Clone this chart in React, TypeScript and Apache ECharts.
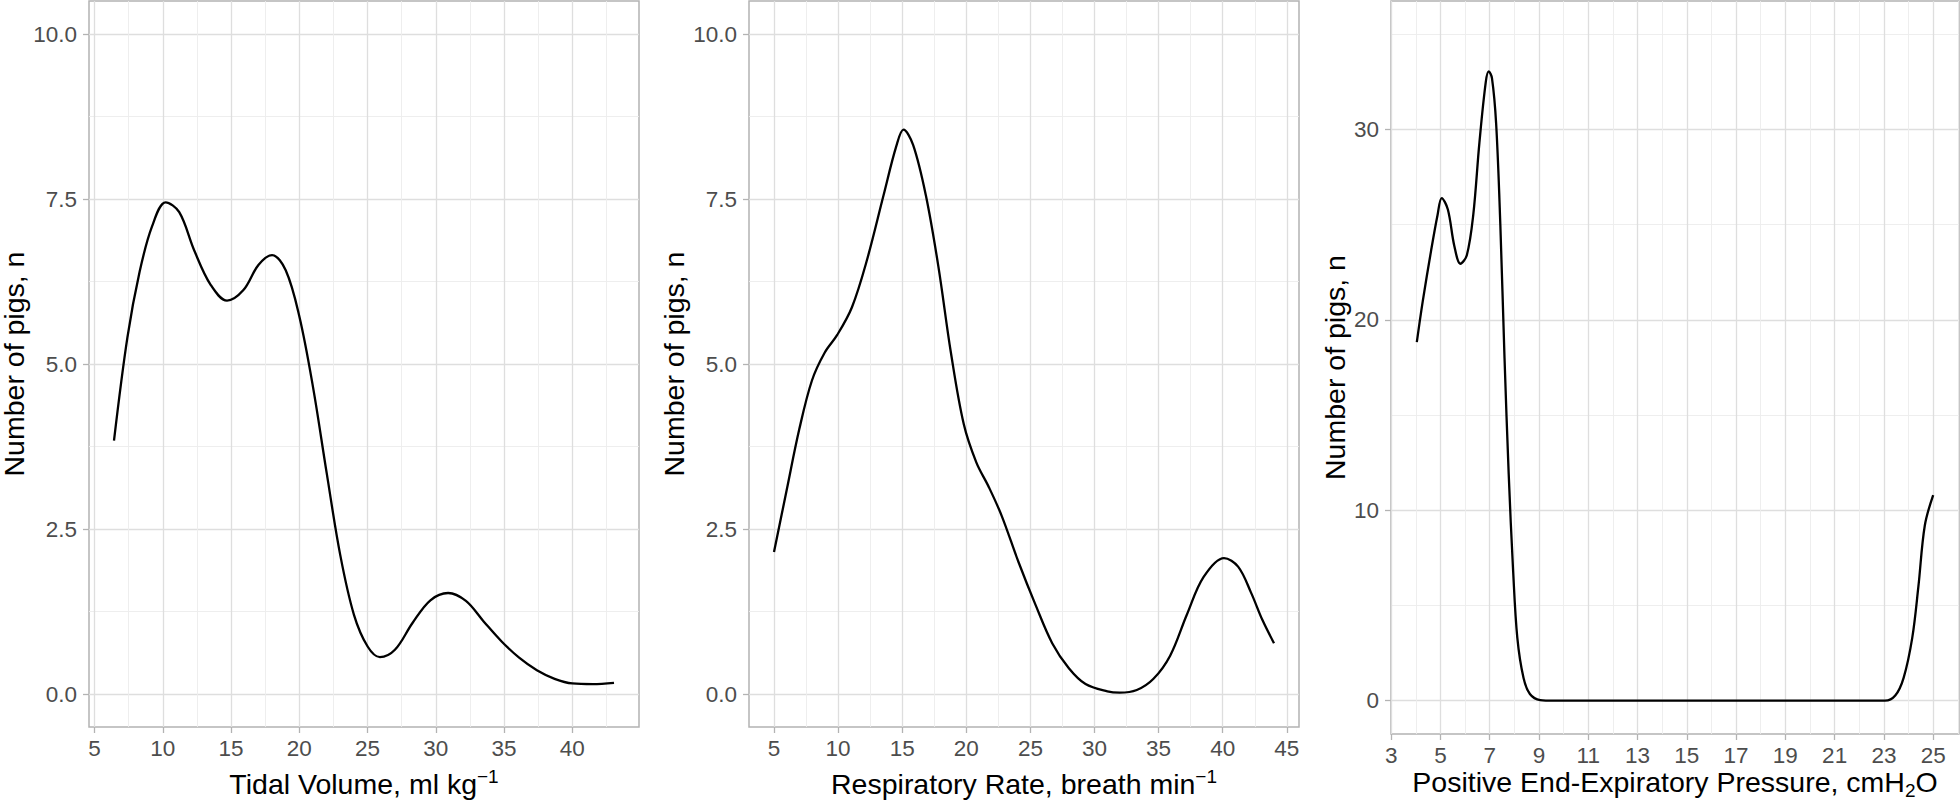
import React, { useEffect, useRef } from "react";
import * as echarts from "echarts";

// ---- Data ----
const tidalX = [6.42, 7.4, 8.3, 9.2, 10.2, 11.2, 12.3, 13.5, 14.7, 15.9, 17.0, 18.0, 19.0, 20.0, 21.0, 22.0, 23.0, 24.0, 25.0, 25.9, 27.0, 28.3, 29.6, 30.9, 32.2, 33.5, 34.8, 36.1, 37.4, 38.7, 40.0, 41.5, 43.05];
const tidalY = [3.84, 5.4, 6.4, 7.08, 7.45, 7.3, 6.72, 6.2, 5.96, 6.12, 6.5, 6.65, 6.42, 5.72, 4.65, 3.35, 2.1, 1.2, 0.72, 0.56, 0.67, 1.08, 1.42, 1.53, 1.41, 1.1, 0.8, 0.55, 0.36, 0.23, 0.16, 0.15, 0.17];

const respX = [5.0, 5.99, 6.97, 7.96, 8.95, 9.93, 11.08, 12.23, 13.55, 14.54, 15.1, 15.85, 16.84, 17.82, 18.8, 19.8, 20.78, 21.77, 22.76, 24.07, 25.4, 26.7, 28.0, 29.3, 31.0, 31.96, 33.3, 34.6, 35.9, 37.2, 38.5, 40.1, 41.2, 42.2, 43.1, 44.0];
const respY = [2.15, 3.09, 4.01, 4.75, 5.17, 5.44, 5.86, 6.56, 7.56, 8.3, 8.55, 8.32, 7.56, 6.48, 5.17, 4.09, 3.51, 3.13, 2.7, 2.0, 1.35, 0.77, 0.39, 0.15, 0.04, 0.02, 0.06, 0.23, 0.58, 1.2, 1.77, 2.06, 1.93, 1.54, 1.12, 0.77];

const peepX = [4.04, 4.28, 4.62, 4.88, 5.05, 5.3, 5.56, 5.81, 6.07, 6.33, 6.58, 6.84, 6.96, 7.09, 7.26, 7.43, 7.6, 7.77, 7.95, 8.12, 8.37, 8.63, 9.05, 9.6, 12, 15, 18, 21, 23.04, 23.46, 23.8, 24.15, 24.4, 24.66, 25.0];
const peepY = [18.83, 20.97, 23.64, 25.5, 26.4, 25.8, 23.9, 22.95, 23.4, 25.5, 29.3, 32.5, 33.05, 32.7, 30.3, 25.0, 18.0, 11.9, 6.8, 3.3, 1.2, 0.35, 0.03, 0, 0, 0, 0, 0, 0, 0.27, 1.2, 3.3, 6.0, 9.2, 10.8];

const tidalXTicks = [5, 10, 15, 20, 25, 30, 35, 40];
const respXTicks = [5, 10, 15, 20, 25, 30, 35, 40, 45];
const peepXTicks = [3, 5, 7, 9, 11, 13, 15, 17, 19, 21, 23, 25];
const rateYTicks = [0, 2.5, 5, 7.5, 10];
const peepYTicks = [0, 10, 20, 30];
const rateYLimits = [0, 10];
const peepYLimits = [0, 35];

const FONT = "'Liberation Sans', Arial, Helvetica, sans-serif";

function expand(lo: number, hi: number): [number, number] {
  const d = hi - lo;
  return [lo - d * 0.05, hi + d * 0.05];
}

function minorBreaks(major: number[], lo: number, hi: number): number[] {
  const out: number[] = [];
  const step = major[1] - major[0];
  const cand = [major[0] - step / 2];
  for (let i = 0; i < major.length - 1; i++) cand.push((major[i] + major[i + 1]) / 2);
  cand.push(major[major.length - 1] + step / 2);
  cand.forEach((v) => {
    if (v > lo && v < hi) out.push(v);
  });
  return out;
}

export default function App() {
  const ref = useRef<HTMLDivElement>(null);

  useEffect(() => {
    if (!ref.current) return;
    const chart = echarts.init(ref.current, null, { renderer: "svg" });

    const panels = [
      {
        xs: tidalX, ys: tidalY, xTicks: tidalXTicks, yTicks: rateYTicks,
        yLim: expand(rateYLimits[0], rateYLimits[1]),
        xName: "Tidal Volume, ml kg{sup|\u22121}",
        fmt: (v: number) => v.toFixed(1),
        grid: { left: 89, top: 1, width: 550, height: 726 },
        yGap: 61, xGap: 40, nameLH: 34,
      },
      {
        xs: respX, ys: respY, xTicks: respXTicks, yTicks: rateYTicks,
        yLim: expand(rateYLimits[0], rateYLimits[1]),
        xName: "Respiratory Rate, breath min{sup|\u22121}",
        fmt: (v: number) => v.toFixed(1),
        grid: { left: 749, top: 1, width: 550, height: 726 },
        yGap: 61, xGap: 40, nameLH: 34,
      },
      {
        xs: peepX, ys: peepY, xTicks: peepXTicks, yTicks: peepYTicks,
        yLim: expand(peepYLimits[0], peepYLimits[1]),
        xName: "Positive End-Expiratory Pressure, cmH{sub|2}O",
        fmt: (v: number) => String(v),
        grid: { left: 1391, top: 1, width: 568, height: 733 },
        yGap: 42, xGap: 30, nameLH: 36,
      },
    ];

    const grids: any[] = [];
    const xAxes: any[] = [];
    const yAxes: any[] = [];
    const series: any[] = [];

    const tickStyle = { color: "#b3b3b3", width: 1.3 };
    const labelStyle = { fontSize: 22.5, color: "#4d4d4d", fontFamily: FONT };

    panels.forEach((p, i) => {
      const xLim = expand(Math.min(...p.xs), Math.max(...p.xs));
      const yLim = p.yLim;
      grids.push({
        ...p.grid, show: true, borderColor: "#b3b3b3", borderWidth: 1.5, backgroundColor: "#fff",
        containLabel: false, outerBoundsMode: "none",
      });
      xAxes.push({
        type: "value", gridIndex: i, min: xLim[0], max: xLim[1],
        axisLine: { show: false, onZero: false },
        splitLine: { show: false },
        axisTick: { show: true, length: 6, customValues: p.xTicks, lineStyle: tickStyle },
        axisLabel: { ...labelStyle, customValues: p.xTicks, margin: 10 },
        name: p.xName, nameLocation: "middle", nameGap: p.xGap, nameMoveOverlap: false,
        nameTextStyle: {
          fontSize: 28.5, color: "#000", fontFamily: FONT, lineHeight: p.nameLH,
          rich: {
            sup: { fontSize: 19, color: "#000", fontFamily: FONT, lineHeight: 19, verticalAlign: "top" },
            sub: { fontSize: 19, color: "#000", fontFamily: FONT, lineHeight: 19, verticalAlign: "bottom" },
          },
        },
      });
      yAxes.push({
        type: "value", gridIndex: i, min: yLim[0], max: yLim[1],
        axisLine: { show: false, onZero: false },
        splitLine: { show: false },
        axisTick: { show: true, length: 6, customValues: p.yTicks, lineStyle: tickStyle },
        axisLabel: { ...labelStyle, customValues: p.yTicks, margin: 12, formatter: p.fmt },
        name: "Number of pigs, n", nameLocation: "middle", nameGap: p.yGap, nameMoveOverlap: false,
        nameTextStyle: { fontSize: 28.5, color: "#000", fontFamily: FONT },
      });

      const pairs = p.xs.map((x, k) => [x, p.ys[k]]);
      const major = { color: "#dedede", width: 1.3, type: "solid" };
      const minor = { color: "#ececec", width: 0.9, type: "solid" };
      const lines: any[] = [];
      p.yTicks.forEach((v) => lines.push({ yAxis: v, lineStyle: major }));
      minorBreaks(p.yTicks, yLim[0], yLim[1]).forEach((v) => lines.push({ yAxis: v, lineStyle: minor }));
      p.xTicks.forEach((v) => lines.push({ xAxis: v, lineStyle: major }));
      minorBreaks(p.xTicks, xLim[0], xLim[1]).forEach((v) => lines.push({ xAxis: v, lineStyle: minor }));

      series.push({
        type: "line", xAxisIndex: i, yAxisIndex: i, data: pairs, symbol: "none", silent: true,
        lineStyle: { opacity: 0 }, z: 1,
        markLine: {
          silent: true, symbol: ["none", "none"], z: 1, animation: false,
          label: { show: false }, emphasis: { disabled: true },
          lineStyle: { type: "solid" },
          data: lines,
        },
      });
      series.push({
        type: "line", xAxisIndex: i, yAxisIndex: i, data: pairs, symbol: "none", smooth: 0.35,
        lineStyle: { color: "#000", width: 2.3 }, z: 3, silent: true,
      });
    });

    chart.setOption({
      animation: false,
      backgroundColor: "#fff",
      grid: grids,
      xAxis: xAxes,
      yAxis: yAxes,
      series,
    });

    return () => chart.dispose();
  }, []);

  return (
    <div
      ref={ref}
      style={{ position: "absolute", left: 0, top: 0, width: 1960, height: 800, background: "#fff" }}
    />
  );
}
